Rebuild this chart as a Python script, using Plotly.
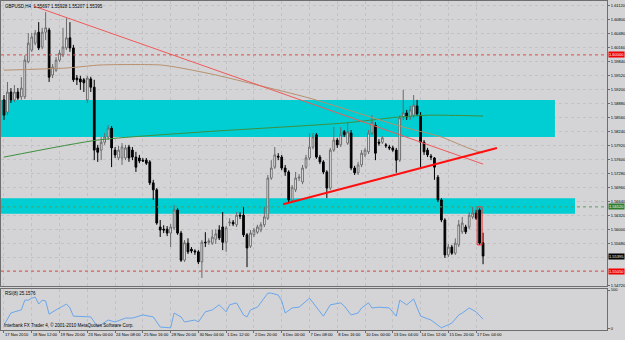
import plotly.graph_objects as go

# ---------------- data ----------------
opens = [1.5897,1.5869,1.5915,1.5897,1.5915,1.5904,1.5904,1.5984,1.6011,1.6027,
         1.6052,1.6018,1.6052,1.6057,1.5954,1.5965,1.5988,1.6000,1.6016,1.6039,
         1.6016,1.5947,1.5945,1.5943,1.5897,1.5945,1.5926,1.5787,1.5782,1.5800,
         1.5812,1.5832,1.5782,1.5764,1.5764,1.5764,1.5789,1.5782,1.5766,1.5764,
         1.5759,1.5759,1.5755,1.5707,1.5691,1.5606,1.5601,1.5601,1.5592,1.5604,
         1.5645,1.5592,1.5530,1.5569,1.5555,1.5551,1.5549,1.5526,1.5571,1.5571,
         1.5569,1.5578,1.5599,1.5606,1.5571,1.5615,1.5617,1.5611,1.5633,1.5633,
         1.5588,1.5562,1.5588,1.5594,1.5599,1.5611,1.5626,1.5718,1.5743,1.5768,
         1.5766,1.5741,1.5732,1.5668,1.5691,1.5718,1.5709,1.5743,1.5764,1.5789,
         1.5817,1.5766,1.5755,1.5732,1.5695,1.5782,1.5805,1.5794,1.5824,1.5798,
         1.5821,1.5741,1.5730,1.5748,1.5771,1.5778,1.5821,1.5839,1.5800,1.5800,
         1.5794,1.5789,1.5787,1.5782,1.5759,1.5858,1.5867,1.5858,1.5862,1.5883,
         1.5862,1.5800,1.5782,1.5768,1.5764,1.5720,1.5668,1.5622,1.5542,1.5560,
         1.5546,1.5565,1.5595,1.5606,1.5606,1.5629,1.5638,1.5645,1.55697]
highs = [1.5908,1.5938,1.5924,1.5931,1.5924,1.5949,1.5999,1.6050,1.6050,1.6057,
         1.6075,1.6062,1.6098,1.6062,1.5979,1.5995,1.6011,1.6062,1.6084,1.6075,
         1.6023,1.5954,1.5952,1.5947,1.5952,1.5950,1.5943,1.5794,1.5812,1.5821,
         1.5839,1.5837,1.5789,1.5792,1.5798,1.5794,1.5794,1.5789,1.5778,1.5771,
         1.5764,1.5764,1.5759,1.5714,1.5695,1.5622,1.5610,1.5608,1.5613,1.5656,
         1.5649,1.5597,1.5576,1.5580,1.5560,1.5555,1.5553,1.5576,1.5594,1.5580,
         1.5599,1.5601,1.5610,1.5640,1.5608,1.5626,1.5622,1.5640,1.5640,1.5652,
         1.5592,1.5599,1.5604,1.5611,1.5617,1.5652,1.5725,1.5759,1.5789,1.5775,
         1.5771,1.5748,1.5736,1.5702,1.5732,1.5727,1.5748,1.5771,1.5821,1.5821,
         1.5821,1.5771,1.5759,1.5736,1.5787,1.5835,1.5810,1.5835,1.5828,1.5844,
         1.5828,1.5746,1.5755,1.5782,1.5787,1.5828,1.5862,1.5846,1.5807,1.5814,
         1.5798,1.5794,1.5792,1.5787,1.5862,1.5920,1.5874,1.5883,1.5908,1.5897,
         1.5869,1.5805,1.5787,1.5773,1.5766,1.5725,1.5672,1.5626,1.5567,1.5565,
         1.5580,1.5622,1.5629,1.5611,1.5640,1.5652,1.5645,1.5649,1.55928]
lows = [1.5851,1.5862,1.5890,1.5892,1.5897,1.5897,1.5899,1.5981,1.6007,1.6022,
        1.6011,1.6013,1.6034,1.5938,1.5947,1.5961,1.5984,1.5995,1.6011,1.6007,
        1.5938,1.5931,1.5920,1.5915,1.5890,1.5915,1.5759,1.5755,1.5759,1.5794,
        1.5805,1.5743,1.5764,1.5759,1.5748,1.5759,1.5755,1.5759,1.5732,1.5752,
        1.5755,1.5748,1.5702,1.5668,1.5611,1.5583,1.5592,1.5585,1.5560,1.5599,
        1.5588,1.5526,1.5526,1.5544,1.5546,1.5542,1.5521,1.5489,1.5560,1.5565,
        1.5565,1.5567,1.5576,1.5553,1.5549,1.5608,1.5608,1.5606,1.5624,1.5583,
        1.5514,1.5558,1.5583,1.5590,1.5594,1.5606,1.5622,1.5714,1.5739,1.5759,
        1.5736,1.5723,1.5661,1.5661,1.5686,1.5711,1.5704,1.5739,1.5759,1.5784,
        1.5762,1.5750,1.5727,1.5672,1.5691,1.5778,1.5787,1.5789,1.5812,1.5794,
        1.5736,1.5725,1.5725,1.5743,1.5766,1.5773,1.5817,1.5759,1.5792,1.5796,
        1.5787,1.5782,1.5778,1.5730,1.5755,1.5851,1.5851,1.5851,1.5856,1.5860,
        1.5743,1.5771,1.5766,1.5759,1.5714,1.5663,1.5617,1.5535,1.5537,1.5542,
        1.5542,1.5560,1.5590,1.5590,1.5601,1.5624,1.5622,1.5565,1.55207]
closes = [1.5862,1.5915,1.5897,1.5915,1.5901,1.5924,1.5988,1.6027,1.6041,1.6050,
          1.6016,1.6052,1.6062,1.5949,1.5972,1.5988,1.6004,1.6018,1.6039,1.6016,
          1.5943,1.5943,1.5938,1.5936,1.5947,1.5926,1.5782,1.5777,1.5800,1.5812,
          1.5832,1.5787,1.5771,1.5782,1.5789,1.5787,1.5764,1.5766,1.5743,1.5757,
          1.5757,1.5752,1.5707,1.5691,1.5615,1.5599,1.5599,1.5592,1.5606,1.5645,
          1.5592,1.5530,1.5570,1.5549,1.5551,1.5549,1.5526,1.5571,1.5570,1.5574,
          1.5583,1.5590,1.5581,1.5571,1.5604,1.5617,1.5613,1.5633,1.5631,1.5588,
          1.5558,1.5592,1.5599,1.5606,1.5611,1.5629,1.5718,1.5741,1.5771,1.5766,
          1.5741,1.5732,1.5668,1.5697,1.5718,1.5720,1.5741,1.5764,1.5789,1.5812,
          1.5766,1.5755,1.5732,1.5695,1.5782,1.5805,1.5794,1.5817,1.5817,1.5824,
          1.5741,1.5730,1.5748,1.5775,1.5782,1.5821,1.5846,1.5775,1.5798,1.5810,
          1.5792,1.5787,1.5782,1.5759,1.5856,1.5867,1.5858,1.5874,1.5885,1.5865,
          1.5800,1.5778,1.5771,1.5766,1.5743,1.5668,1.5622,1.5542,1.5560,1.5546,
          1.5569,1.5611,1.5615,1.5595,1.5633,1.5638,1.5626,1.5569,1.55395]
bars = list(range(len(opens)))

time_tick_bars = [0, 8, 16, 24, 32, 40, 48, 56, 64, 72, 80, 88, 96, 104, 112, 120, 128, 136]
time_tick_labels = ["17 Nov 2010", "18 Nov 12:00", "19 Nov 20:00", "23 Nov 00:00", "24 Nov 08:00",
                    "25 Nov 16:00", "28 Nov 20:00", "30 Nov 04:00", "1 Dec 12:00", "2 Dec 20:00",
                    "6 Dec 00:00", "7 Dec 08:00", "8 Dec 16:00", "10 Dec 00:00", "13 Dec 04:00",
                    "14 Dec 12:00", "15 Dec 20:00", "17 Dec 04:00"]

# price scale labels (the two under the black / red boxes are hidden in the reference)
price_ticks = [1.6112, 1.6080, 1.6048, 1.6016, 1.5984, 1.5952, 1.5920, 1.5888, 1.5856, 1.5824,
               1.5792, 1.5760, 1.5728, 1.5696, 1.5664, 1.5632, 1.5600, 1.5568, 1.5472]
price_tick_labels = ["%.5f" % v for v in price_ticks]
price_grid = [1.6112, 1.6080, 1.6048, 1.6016, 1.5984, 1.5952, 1.5920, 1.5888, 1.5856, 1.5824,
              1.5792, 1.5760, 1.5728, 1.5696, 1.5664, 1.5632, 1.5600, 1.5568, 1.5536, 1.5504]

# moving averages (read as polylines)
ma_slow_bars = [0, 27, 56, 98, 114, 123, 138]
ma_slow_vals = [1.5766, 1.5805, 1.5823, 1.5844, 1.5858, 1.5862, 1.5860]
ma_mid_bars = [0, 18, 28, 45, 51, 61, 73, 88, 114, 126, 133, 138]
ma_mid_vals = [1.5965, 1.5970, 1.5977, 1.5977, 1.5970, 1.5954, 1.5931, 1.5901, 1.5837, 1.5812, 1.5789, 1.5775]

# trend lines
resist_bars = [8.5, 138]
resist_vals = [1.6112, 1.5750]
support_bars = [80.4, 142.0]
support_vals = [1.5658, 1.5787]

# zones
upper_zone = (1.5812, 1.5897, 158.7)
lower_zone = (1.5636, 1.5672, 164.5)
box_bars = (136.3, 137.7)
box_prices = (1.5565, 1.5652)

level_red_hi = 1.60000
level_red_lo = 1.55050
level_green = 1.56520
last_close = 1.55395

# RSI(8)
rsi_bars = [0, 2, 3, 5, 6, 7, 8, 9, 10, 11, 12, 13, 15, 18, 19, 20, 25, 27, 30, 32, 35, 37, 40, 43, 45,
            48, 49, 51, 52, 55, 56, 58, 60, 62, 64, 65, 67, 69, 70, 71, 73, 74, 76, 77, 79, 80, 81, 83,
            85, 88, 90, 92, 94, 95, 97, 98, 100, 102, 103, 105, 106, 108, 111, 113, 114, 116, 118, 120,
            123, 126, 128, 129, 131, 132, 134, 136, 138]
rsi_vals = [10, 41, 44, 49, 74, 74, 79, 82, 64, 74, 72, 38, 49, 64, 54, 33, 31, 5, 23, 18, 28, 28, 36, 31, 5,
            3, 41, 31, 18, 23, 18, 44, 49, 62, 44, 62, 67, 36, 31, 49, 56, 67, 92, 92, 87, 72, 41, 54,
            56, 79, 56, 33, 62, 64, 67, 59, 36, 41, 54, 67, 54, 56, 54, 33, 74, 62, 77, 33,
            23, 3, 10, 15, 36, 41, 54, 44, 25.16]

# ---------------- figure ----------------
BG = "#D4D4D6"
FONT = "Liberation Sans"
AX_FS = 4
X_RANGE = [-0.86, 173.7]

fig = go.Figure()
fig.add_trace(go.Candlestick(
    x=bars, open=opens, high=highs, low=lows, close=closes,
    increasing=dict(line=dict(color="#6A6A6A", width=1), fillcolor="#FFFFFF"),
    decreasing=dict(line=dict(color="#000000", width=1), fillcolor="#000000"),
    whiskerwidth=0, showlegend=False, hoverinfo="skip", xaxis="x", yaxis="y"))

fig.add_trace(go.Scatter(x=ma_slow_bars, y=ma_slow_vals, mode="lines",
                         line=dict(color="#3F8F3F", width=1, shape="spline", smoothing=0.6),
                         showlegend=False, hoverinfo="skip"))
fig.add_trace(go.Scatter(x=ma_mid_bars, y=ma_mid_vals, mode="lines",
                         line=dict(color="#B8906E", width=1, shape="spline", smoothing=0.6),
                         showlegend=False, hoverinfo="skip"))
fig.add_trace(go.Scatter(x=resist_bars, y=resist_vals, mode="lines",
                         line=dict(color="#F05A5A", width=1), showlegend=False, hoverinfo="skip"))
fig.add_trace(go.Scatter(x=support_bars, y=support_vals, mode="lines",
                         line=dict(color="#FF1010", width=2), showlegend=False, hoverinfo="skip"))
fig.add_trace(go.Scatter(x=rsi_bars, y=rsi_vals, mode="lines", xaxis="x2", yaxis="y2",
                         line=dict(color="#6AA6EC", width=1), showlegend=False, hoverinfo="skip"))

shapes = []
for lo, hi, right in (upper_zone, lower_zone):
    shapes.append(dict(type="rect", xref="x", yref="y", x0=X_RANGE[0], x1=right, y0=lo, y1=hi,
                       fillcolor="#00CED2", line=dict(width=0), layer="between"))
shapes.append(dict(type="rect", xref="x", yref="y", x0=box_bars[0], x1=box_bars[1],
                   y0=box_prices[0], y1=box_prices[1], line=dict(color="#FF2020", width=1),
                   fillcolor="rgba(0,0,0,0)", layer="above"))
for lvl, col in ((level_red_hi, "#E04848"), (level_red_lo, "#E04848"), (level_green, "#5C9C5C")):
    shapes.append(dict(type="line", xref="paper", yref="y", x0=0, x1=1, y0=lvl, y1=lvl,
                       line=dict(color=col, width=1, dash="dot"), layer="above"))
fig.update_layout(shapes=shapes)

annotations = [
    dict(text="GBPUSD,H4  1.55697 1.55928 1.55207 1.55395", xref="paper", yref="paper",
         x=0.004, y=1.0, xanchor="left", yanchor="top", yshift=-1, showarrow=False,
         font=dict(size=4.5, color="#000000", family=FONT)),
    dict(text="RSI(8) 25.1576", xref="paper", yref="y2", x=0.004, y=102.6, xanchor="left",
         yanchor="top", showarrow=False, font=dict(size=4.5, color="#000000", family=FONT)),
    dict(text="Interbank FX Trader 4, \u00a9 2001-2010 MetaQuotes Software Corp.", xref="paper",
         yref="y2", x=0.002, y=-2.6, xanchor="left", yanchor="bottom", showarrow=False,
         font=dict(size=4.5, color="#000000", family=FONT)),
]
for lvl, bg in ((level_red_hi, "#F00000"), (level_green, "#2E7D2E"),
                (last_close, "#000000"), (level_red_lo, "#F00000")):
    annotations.append(dict(text="%.5f" % lvl, xref="paper", yref="y", x=1.0, y=lvl,
                            xanchor="left", yanchor="middle", xshift=1, showarrow=False,
                            bgcolor=bg, borderpad=0,
                            font=dict(size=AX_FS, color="#FFFFFF", family=FONT)))
fig.update_layout(annotations=annotations)

axis_common = dict(showline=True, linecolor="#6E6E6E", linewidth=1, mirror=True,
                   gridcolor="#C2C2C4", griddash="dot", gridwidth=1, zeroline=False,
                   automargin=False)

fig.update_layout(
    width=625, height=340,
    margin=dict(l=1, r=18, t=1, b=10),
    paper_bgcolor=BG, plot_bgcolor=BG,
    font=dict(family=FONT, size=AX_FS, color="#000000"),
    xaxis=dict(domain=[0, 1], anchor="y", range=X_RANGE, showticklabels=False,
               tickvals=time_tick_bars, rangeslider=dict(visible=False), showgrid=True, **axis_common),
    yaxis=dict(domain=[0.1337, 1], anchor="x", side="right", range=[1.54708, 1.61234],
               tickvals=price_ticks, ticktext=price_tick_labels, ticks="outside", ticklen=2,
               tickcolor="#6E6E6E", showgrid=True, tickfont=dict(size=AX_FS), **axis_common),
    yaxis3=dict(domain=[0.1337, 1], anchor="x", overlaying="y", side="right", range=[1.54708, 1.61234],
                tickvals=price_grid, showticklabels=False, ticks="", showgrid=True,
                gridcolor="#C2C2C4", griddash="dot", showline=False, zeroline=False, automargin=False),
    xaxis2=dict(domain=[0, 1], anchor="y2", matches="x", range=X_RANGE, tickvals=time_tick_bars,
                ticktext=time_tick_labels, ticks="outside", ticklen=2, tickcolor="#6E6E6E",
                tickangle=0, ticklabelposition="outside right", tickfont=dict(size=4.1),
                showgrid=True, **axis_common),
    yaxis2=dict(domain=[0, 0.1246], anchor="x2", side="right", range=[-2.6, 102.6],
                tickvals=[0, 100], ticktext=["0", "100"], ticks="outside", ticklen=2,
                tickcolor="#6E6E6E", showgrid=False, tickfont=dict(size=AX_FS), **axis_common),
)
fig.add_trace(go.Scatter(x=[None], y=[None], yaxis="y3", showlegend=False, hoverinfo="skip"))

fig.write_html("out.html")
